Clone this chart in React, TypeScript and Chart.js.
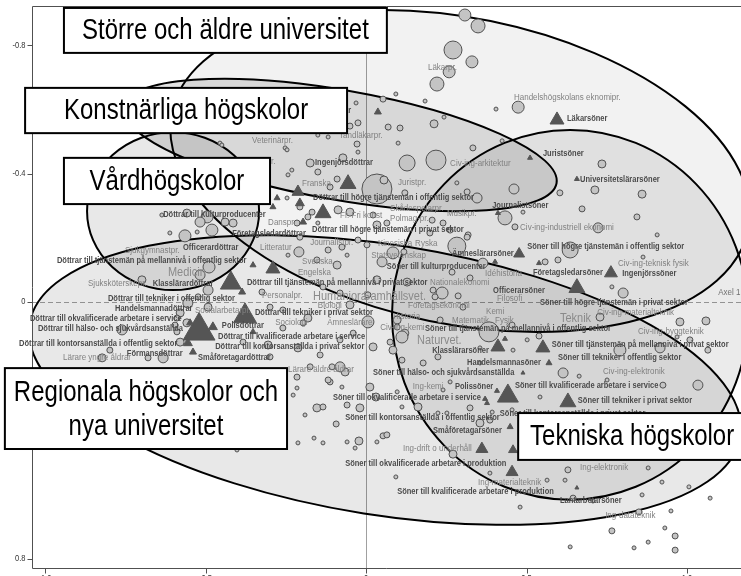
import React, { useEffect, useRef } from "react";
import { Chart, registerables } from "chart.js";

Chart.register(...registerables);

// ---------- axis ticks ----------
const xTickValues = [-1.0, -0.5, 0, 0.5, 1.0];
const xTickLabels = ["-1.0", "-0.5", "0", "0.5", "1.0"];
const yTickValues = [-0.8, -0.4, 0, 0.4, 0.8];
const yTickLabels = ["-0.8", "-0.4", "0", "0.4", "0.8"];

// ---------- programmes (circles): [axis1, axis2, size] ----------
const circles: [number, number, number][] = [
  [0.308,-0.894,6],[0.349,-0.860,7],[0.271,-0.785,9],[0.330,-0.748,6],[0.259,-0.717,6],[0.221,-0.679,7],
  [0.405,-0.601,2],[0.184,-0.626,2],[0.093,-0.648,2],[0.053,-0.632,3],[-0.031,-0.620,2],[-0.025,-0.558,3],
  [-0.050,-0.548,3],[0.069,-0.545,3],[0.106,-0.542,3],[0.243,-0.576,2],[0.212,-0.555,4],[0.100,-0.495,2],
  [-0.028,-0.492,3],[-0.025,-0.467,2],[0.128,-0.433,8],[0.218,-0.442,10],[0.333,-0.480,3],[0.034,-0.352,15],
  [0.056,-0.380,4],[0.121,-0.340,3],[0.315,-0.343,3],[0.283,-0.371,2],[-0.072,-0.449,4],[-0.150,-0.405,3],
  [-0.174,-0.433,4],[-0.090,-0.383,3],[-0.112,-0.358,3],[-0.243,-0.396,2],[-0.231,-0.411,2],[-0.150,-0.520,2],
  [-0.118,-0.514,2],[-0.252,-0.480,2],[0.424,-0.502,2],[0.474,-0.607,6],[0.735,-0.430,4],[0.713,-0.349,4],
  [0.604,-0.340,3],[0.860,-0.336,4],[0.461,-0.352,5],[0.673,-0.290,3],[0.844,-0.265,3],[0.907,-0.209,2],
  [0.723,-0.231,5],[0.636,-0.162,8],[0.433,-0.262,7],[0.318,-0.209,3],[0.283,-0.174,9],[0.364,-0.121,5],
  [0.558,-0.125,3],[0.464,-0.234,3],[0.801,-0.028,5],[0.729,0.047,4],[0.978,0.062,4],[1.059,0.059,4],
  [1.009,0.118,3],[1.065,0.150,3],[1.034,0.259,5],[0.614,0.221,5],[0.237,-0.028,6],[0.455,0.072,3],
  [0.231,0.056,3],[0.097,0.056,4],[0.209,-0.037,3],[0.084,0.150,4],[0.121,0.097,4],[0.751,0.243,2],
  [0.355,0.143,2],[0.502,0.118,2],[0.324,0.330,3],[0.240,0.274,2],[0.386,0.368,3],[0.489,-0.280,2],
  [0.598,-0.131,3],[0.863,-0.140,2],[0.766,-0.047,2],[0.791,0.150,6],[0.916,0.143,5],[0.664,0.231,2],
  [0.539,0.106,3],[0.458,0.150,2],[0.969,0.109,2],[0.542,0.296,2],[0.925,0.259,3],[0.629,0.523,3],
  [0.879,0.517,2],[0.564,0.555,2],[0.620,0.555,2],[0.860,0.601,2],[0.922,0.561,2],[1.006,0.576,2],
  [1.072,0.611,2],[0.645,0.611,3],[0.707,0.620,2],[0.850,0.654,3],[0.950,0.651,2],[0.766,0.713,3],
  [0.931,0.704,2],[0.963,0.729,3],[0.879,0.748,2],[0.636,0.763,2],[0.835,0.766,2],[0.963,0.773,3],
  [0.480,0.639,2],[0.455,0.336,2],[0.012,0.265,4],[-0.112,0.249,3],[-0.075,0.265,2],[-0.215,0.268,2],
  [-0.227,0.290,2],[-0.153,0.330,4],[-0.134,0.327,3],[-0.190,0.352,2],[-0.059,0.321,3],[-0.019,0.330,4],
  [0.031,0.296,4],[0.097,0.280,2],[0.112,0.327,2],[0.162,0.327,4],[0.224,0.346,2],[-0.093,0.380,3],
  [-0.212,0.439,2],[-0.162,0.424,2],[-0.134,0.439,2],[-0.059,0.436,2],[-0.022,0.433,4],[-0.034,0.455,2],
  [0.034,0.436,2],[0.053,0.417,3],[0.065,0.414,3],[0.271,0.474,4],[0.355,0.377,4],[0.093,0.545,2],
  [0.386,0.533,2],[0.252,0.346,2],[0.393,0.343,2],[-0.402,0.461,2],
  [0.346,-0.324,5],[0.315,-0.202,3],[0.262,-0.224,3],[-0.050,-0.280,4],[-0.087,-0.287,4],[0.022,-0.271,3],
  [0.034,-0.240,4],[-0.150,-0.246,2],[-0.181,-0.265,3],[-0.206,-0.296,3],[-0.246,-0.324,2],[-0.206,-0.202,3],
  [-0.209,-0.156,5],[-0.153,-0.131,3],[-0.243,-0.146,2],[-0.118,-0.162,3],[-0.090,-0.115,4],[-0.059,-0.146,2],
  [0.050,-0.125,5],[0.084,-0.153,6],[0.118,-0.156,3],[-0.025,-0.193,3],[0.003,-0.178,3],[-0.075,-0.171,3],
  [0.065,-0.246,3],[0.199,-0.215,3],[0.240,-0.246,3],[0.206,-0.255,3],[0.128,-0.062,4],[0.034,-0.069,4],
  [0.215,-0.016,3],[0.287,-0.019,3],[0.302,0.016,3],[0.324,-0.075,3],[0.268,-0.093,3],[0.006,-0.022,3],
  [-0.050,0.009,4],[-0.081,-0.028,3],[-0.134,-0.047,3],[-0.324,-0.031,3],[-0.299,0.016,3],[-0.259,0.025,3],
  [-0.181,0.050,4],[-0.196,0.065,3],[0.006,0.062,6],[0.097,0.078,3],[0.112,0.109,6],[0.022,0.140,4],
  [0.075,0.125,3],[-0.081,0.118,3],[-0.040,0.097,3],[-0.259,0.081,3],[-0.212,0.143,4],[-0.143,0.165,3],
  [-0.106,0.202,3],[-0.065,0.218,4],[-0.174,0.202,3],[-0.215,0.234,3],[-0.118,0.243,3],[-0.299,0.171,3],
  [-0.305,0.134,4],[-0.336,0.249,3],[-0.262,0.252,3],[0.178,0.190,3],[0.224,0.171,3],[0.262,0.249,2],
  [0.355,0.190,2],[0.383,0.093,10],[0.112,0.181,3],
  [-0.564,-0.206,6],[-0.495,-0.265,6],[-0.480,-0.224,6],[-0.439,-0.249,4],[-0.558,-0.277,4],[-0.636,-0.271,2],
  [-0.611,-0.215,2],[-0.526,-0.218,2],[-0.698,-0.069,4],[-0.517,-0.084,5],[-0.489,-0.109,6],[-0.492,-0.037,5],
  [-0.523,-0.016,3],[-0.492,0.016,4],[-0.555,0.003,5],[-0.579,0.034,4],[-0.558,0.065,4],[-0.595,0.072,3],
  [-0.579,0.125,4],[-0.589,0.093,3],[-0.760,0.087,5],[-0.589,0.050,3],[-0.632,0.174,5],[-0.679,0.174,3],
  [-0.822,0.174,4],[-0.798,0.150,3],[-0.383,0.125,3],[-0.081,0.202,5],[-0.455,-0.495,2],[-0.246,-0.474,2],
  [-0.449,-0.489,2],[-0.215,-0.246,3],[-0.168,-0.280,3],[-0.414,-0.246,4],[-0.517,-0.249,5]
];

// ---------- social origin groups (triangles): [axis1, axis2, size] ----------
const triangles: [number, number, number][] = [
  [0.595,-0.567,7],[0.511,-0.449,2.5],[0.657,-0.383,2.5],[0.411,-0.277,2.5],[0.477,-0.150,5.5],
  [0.402,-0.125,2.5],[0.539,-0.121,2.5],[0.763,-0.090,6.5],[0.657,-0.044,8],[0.411,0.140,7],
  [0.433,0.115,2.5],[0.551,0.143,7],[0.570,0.190,3],[0.489,0.221,2],[0.442,0.293,10.5],
  [0.408,0.277,2.5],[0.377,0.315,2.5],[0.629,0.312,8],[0.449,0.389,3],[0.458,0.461,4.5],
  [0.455,0.530,6],[0.361,0.458,6],[0.657,0.579,2],[0.371,0.302,2.5],[0.037,-0.592,3.5],
  [-0.056,-0.368,8],[-0.212,-0.343,6],[-0.277,-0.324,3],[-0.290,-0.296,3],[-0.206,-0.308,4.5],
  [-0.134,-0.277,8],[-0.196,-0.249,3.5],[-0.290,-0.103,7],[-0.352,-0.115,3],[-0.421,-0.059,10.5],
  [-0.386,-0.031,3.5],[-0.377,0.044,11.5],[-0.520,0.090,16],[-0.548,0.065,3.5],[-0.477,0.078,4.5],
  [-0.555,0.128,4.5],[-0.539,0.156,3.5],[-0.352,0.093,3]
];

// ---------- labels: [text, axis1, axis2] ----------
const programLabels: [string, number, number][] = [
  ["Läkarpr.",0.193,-0.732],["Handelshögskolans eknomipr.",0.461,-0.639],["Veterinärpr.",-0.355,-0.505],
  ["Tandläkarpr.",-0.084,-0.520],["Psykologpr.",-0.411,-0.439],["Franska",-0.199,-0.371],
  ["Juristpr.",0.100,-0.374],["Civ-ing-arkitektur",0.262,-0.433],["Civ-ing-industriell ekonomi",0.480,-0.234],
  ["Civ-ing-teknisk fysik",0.785,-0.121],["Filosofi",0.408,-0.012],["Civ-ing-materialteknik",0.720,0.031],
  ["Kemi",0.374,0.028],["Fysik",0.402,0.056],["Matematik",0.268,0.056],["Företagsekonomi",0.131,0.009],
  ["Nationalekonomi",0.199,-0.062],["Idéhistoria",0.371,-0.090],["Statsvetenskap",0.016,-0.146],
  ["Kinesiska",0.037,-0.184],["Ryska",0.153,-0.184],["Fr. Fri konst",-0.081,-0.271],["Polmag-pr.",0.075,-0.259],
  ["Skådespelarpr.",0.075,-0.293],["Musikpr.",0.252,-0.277],["Danspr.",-0.305,-0.249],
  ["Journalistpr.",-0.174,-0.187],["Litteratur",-0.330,-0.171],["Svenska",-0.199,-0.128],
  ["Engelska",-0.212,-0.093],["Personalpr.",-0.324,-0.022],["Biologi",-0.150,0.012],["Historia",0.084,0.044],
  ["Civ-ing-kemi",0.044,0.078],["Sociologi",-0.283,0.062],["Ämneslärare",-0.121,0.065],
  ["Lärare äldre åldrar",-0.243,0.209],["Civ-ing-byggteknik",0.847,0.093],["Civ-ing-elektronik",0.738,0.215],
  ["Ing-kemi",0.146,0.262],["Ing-drift o underhåll",0.115,0.455],["Ing-materialteknik",0.349,0.561],
  ["Ing-elektronik",0.667,0.514],["Ing-datateknik",0.745,0.664],["Sjukgymnastpr.",-0.751,-0.162],
  ["Sjuksköterskepr.",-0.866,-0.059],["Socialarbetarpr.",-0.533,0.025],["Lärare yngre åldrar",-0.944,0.174]
];

const parentLabels: [string, number, number][] = [
  ["Läkardöttrar",-0.184,-0.598],["Ingenjörsdöttrar",-0.159,-0.436],["Läkarsöner",0.626,-0.573],
  ["Juristsöner",0.551,-0.464],["Universitetslärarsöner",0.667,-0.383],["Journalistsöner",0.393,-0.302],
  ["Söner till högre tjänstemän i offentlig sektor",0.502,-0.174],["Företagsledarsöner",0.520,-0.093],
  ["Ingenjörssöner",0.798,-0.090],["Officerarsöner",0.396,-0.037],
  ["Söner till högre tjänstemän i privat sektor",0.542,0.003],["Ämneslärarsöner",0.268,-0.150],
  ["Söner till kulturproducenter",0.065,-0.112],["Döttrar till högre tjänstemän i privat sektor",-0.168,-0.227],
  ["Döttrar till högre tjänstemän i offentlig sektor",-0.165,-0.324],
  ["Döttrar till tjänstemän på mellannivå i privat sektor",-0.371,-0.062],
  ["Döttrar till tekniker i privat sektor",-0.346,0.034],
  ["Döttrar till kvalificerade arbetare i service",-0.461,0.109],
  ["Döttrar till kontorsanställda i privat sektor",-0.470,0.140],["Småföretagardöttrar",-0.523,0.174],
  ["Söner till hälso- och sjukvårdsanställda",0.022,0.221],
  ["Söner till tjänstemän på mellannivå i offentlig sektor",0.184,0.084],["Klasslärarsöner",0.206,0.150],
  ["Handelsmannasöner",0.315,0.190],["Söner till tjänstemän på mellannivå i privat sektor",0.579,0.131],
  ["Söner till tekniker i offentlig sektor",0.598,0.174],["Söner till kvalificerade arbetare i service",0.464,0.259],
  ["Söner till tekniker i privat sektor",0.660,0.308],["Polissöner",0.277,0.262],
  ["Söner till okvalificerade arbetare i service",-0.103,0.299],
  ["Söner till kontorsanställda i offentlig sektor",-0.065,0.361],["Småföretagarsöner",0.209,0.399],
  ["Söner till kontorsanställda i privat sektor",0.417,0.346],
  ["Söner till okvalificerade arbetare i produktion",-0.065,0.502],
  ["Söner till kvalificerade arbetare i produktion",0.097,0.592],["Lantarbetarsöner",0.604,0.617],
  ["Döttrar till kulturproducenter",-0.632,-0.271],["Företagsledardöttrar",-0.417,-0.212],
  ["Officerardöttrar",-0.570,-0.171],["Döttrar till tjänstemän på mellannivå i offentlig sektor",-0.963,-0.128],
  ["Klasslärardöttrar",-0.664,-0.059],["Döttrar till tekniker i offentlig sektor",-0.804,-0.012],
  ["Handelsmannadöttrar",-0.782,0.019],["Döttrar till okvalificerade arbetare i service",-1.047,0.050],
  ["Döttrar till hälso- och sjukvårdsanställda",-1.022,0.084],["Polisdöttrar",-0.449,0.072],
  ["Döttrar till kontorsanställda i offentlig sektor",-1.081,0.128],["Förmansdöttrar",-0.745,0.162],
  ["Döttrar till okvalificerade arbetare i produktion",-0.798,0.321],
  ["Döttrar till kvalificerade arbetare i produktion",-0.813,0.396]
];

const fieldLabels: [string, number, number][] = [
  ["Medicin",-0.617,-0.093],["Humaniora",-0.165,-0.019],["Samhällsvet.",-0.009,-0.019],
  ["Naturvet.",0.159,0.121],["Teknik",0.604,0.050],["Utbildning",-0.657,0.221]
];

// ---------- group ellipses (data units) ----------
const groupEllipses = [
  { cx: 0.293, cy: -0.408, rx: 0.916, ry: 0.477, angle: 11.5, fill: "rgba(0,0,0,0.05)" },
  { cx: -0.081, cy: -0.489, rx: 0.685, ry: 0.171, angle: 10, fill: "rgba(0,0,0,0.11)" },
  { cx: -0.601, cy: -0.283, rx: 0.268, ry: 0.246, angle: 0, fill: "rgba(0,0,0,0.09)" },
  { cx: 0.059, cy: 0.243, rx: 1.121, ry: 0.421, angle: 9, fill: "rgba(0,0,0,0.09)" },
  { cx: 0.636, cy: 0.040, rx: 0.555, ry: 0.576, angle: 0, fill: "rgba(0,0,0,0.08)" }
];

// ---------- group title boxes (data units) ----------
const groupBoxes = [
  { lines: ["Större och äldre universitet"], x0: -0.941, x1: 0.065, y0: -0.916, y1: -0.776 },
  { lines: ["Konstnärliga högskolor"], x0: -1.062, x1: -0.059, y0: -0.667, y1: -0.526 },
  { lines: ["Vårdhögskolor"], x0: -0.941, x1: -0.299, y0: -0.449, y1: -0.305 },
  { lines: ["Regionala högskolor och", "nya universitet"], x0: -1.125, x1: -0.246, y0: 0.206, y1: 0.458 },
  { lines: ["Tekniska högskolor"], x0: 0.474, x1: 1.184, y0: 0.346, y1: 0.492 }
];

const FONT = "'Liberation Sans', Arial, Helvetica, sans-serif";
const V_STRETCH = 1.2;

function drawText(ctx: CanvasRenderingContext2D, text: string, x: number, y: number, font: string, color: string, align: CanvasTextAlign, baseline: CanvasTextBaseline = "middle") {
  ctx.save();
  ctx.translate(x, y);
  ctx.scale(1, V_STRETCH);
  ctx.font = font;
  ctx.fillStyle = color;
  ctx.textAlign = align;
  ctx.textBaseline = baseline;
  ctx.fillText(text, 0, 0);
  ctx.restore();
}

const backgroundPlugin = {
  id: "caBackground",
  beforeDatasetsDraw(chart: any) {
    const { ctx, chartArea: a } = chart;
    const xs = chart.scales.x;
    const ys = chart.scales.y;
    ctx.save();
    // reference lines through origin
    const x0 = Math.round(xs.getPixelForValue(0)) + 0.5;
    const y0 = Math.round(ys.getPixelForValue(0)) + 0.5;
    ctx.strokeStyle = "#a0a0a0";
    ctx.lineWidth = 1;
    ctx.beginPath(); ctx.moveTo(x0, a.top); ctx.lineTo(x0, a.bottom); ctx.stroke();
    ctx.setLineDash([5, 3]);
    ctx.beginPath(); ctx.moveTo(a.left, y0); ctx.lineTo(a.right, y0); ctx.stroke();
    ctx.setLineDash([]);

    // ellipses
    ctx.save();
    ctx.beginPath();
    ctx.rect(a.left, a.top, a.right - a.left, a.bottom - a.top);
    ctx.clip();
    const ux = Math.abs(xs.getPixelForValue(1) - xs.getPixelForValue(0));
    const uy = Math.abs(ys.getPixelForValue(1) - ys.getPixelForValue(0));
    const paths = groupEllipses.map((e) => {
      const p = new Path2D();
      p.ellipse(xs.getPixelForValue(e.cx), ys.getPixelForValue(e.cy), e.rx * ux, e.ry * uy, (e.angle * Math.PI) / 180, 0, Math.PI * 2);
      return p;
    });
    paths.forEach((p, i) => { ctx.fillStyle = groupEllipses[i].fill; ctx.fill(p); });
    ctx.strokeStyle = "#000";
    ctx.lineWidth = 2;
    paths.forEach((p) => ctx.stroke(p));
    ctx.restore();

    // axes frame
    ctx.strokeStyle = "#505050";
    ctx.lineWidth = 1;
    const L = Math.round(a.left) + 0.5;
    const T = Math.round(a.top) + 0.5;
    const B = Math.round(a.bottom) + 0.5;
    ctx.beginPath();
    ctx.moveTo(a.right, T); ctx.lineTo(L, T); ctx.lineTo(L, B); ctx.lineTo(a.right, B);
    ctx.stroke();
    // ticks
    ctx.beginPath();
    yTickValues.forEach((v) => {
      const py = Math.round(ys.getPixelForValue(v)) + 0.5;
      ctx.moveTo(L - 5, py); ctx.lineTo(L, py);
    });
    xTickValues.forEach((v) => {
      const px = Math.round(xs.getPixelForValue(v)) + 0.5;
      ctx.moveTo(px, B); ctx.lineTo(px, B + 5);
    });
    ctx.stroke();
    yTickValues.forEach((v, i) => {
      drawText(ctx, yTickLabels[i], L - 7, ys.getPixelForValue(v), `7.5px ${FONT}`, "#333", "right");
    });
    xTickValues.forEach((v, i) => {
      drawText(ctx, xTickLabels[i], xs.getPixelForValue(v), B + 6, `7.5px ${FONT}`, "#333", "center", "top");
    });
    ctx.restore();
  },
  afterDatasetsDraw(chart: any) {
    const { ctx } = chart;
    const xs = chart.scales.x;
    const ys = chart.scales.y;
    programLabels.forEach(([t, x, y]) => {
      drawText(ctx, t, xs.getPixelForValue(x), ys.getPixelForValue(y), `8px ${FONT}`, "#808080", "left");
    });
    parentLabels.forEach(([t, x, y]) => {
      drawText(ctx, t, xs.getPixelForValue(x), ys.getPixelForValue(y), `bold 7.5px ${FONT}`, "#4a4a4a", "left");
    });
    fieldLabels.forEach(([t, x, y]) => {
      drawText(ctx, t, xs.getPixelForValue(x), ys.getPixelForValue(y), `11px ${FONT}`, "#8a8a8a", "left");
    });
    drawText(ctx, "Axel 1", xs.getPixelForValue(1.097), ys.getPixelForValue(-0.031), `8px ${FONT}`, "#707070", "left");

    groupBoxes.forEach((b) => {
      const l = xs.getPixelForValue(b.x0);
      const r = xs.getPixelForValue(b.x1);
      const t = ys.getPixelForValue(b.y0);
      const bt = ys.getPixelForValue(b.y1);
      ctx.save();
      ctx.fillStyle = "#fff";
      ctx.fillRect(l, t, r - l, bt - t);
      ctx.strokeStyle = "#000";
      ctx.lineWidth = 2;
      ctx.strokeRect(l, t, r - l, bt - t);
      ctx.restore();
      const cx = (l + r) / 2;
      const cy = (t + bt) / 2;
      const lh = 34;
      b.lines.forEach((line, i) => {
        const yy = cy + (i - (b.lines.length - 1) / 2) * lh + 1;
        drawText(ctx, line, cx, yy, `24px ${FONT}`, "#000", "center");
      });
    });
  }
};

export default function App() {
  const canvasRef = useRef<HTMLCanvasElement | null>(null);
  useEffect(() => {
    document.body.style.margin = "0";
    const canvas = canvasRef.current;
    if (!canvas) return;
    const chart = new Chart(canvas, {
      type: "scatter",
      data: {
        datasets: [
          {
            label: "Socialt ursprung",
            data: triangles.map(([x, y]) => ({ x, y })),
            pointStyle: "triangle",
            pointRadius: triangles.map((t) => t[2] * 1.15),
            pointBackgroundColor: "#555555",
            pointBorderColor: "#555555",
            pointBorderWidth: 1,
            showLine: false
          },
          {
            label: "Utbildningar",
            data: circles.map(([x, y]) => ({ x, y })),
            pointStyle: "circle",
            pointRadius: circles.map((c) => c[2]),
            pointBackgroundColor: "#c4c4c4",
            pointBorderColor: "#505050",
            pointBorderWidth: 1,
            showLine: false
          }
        ]
      },
      options: {
        animation: false,
        responsive: false,
        devicePixelRatio: 1,
        events: [],
        layout: { autoPadding: false, padding: { left: 32, top: 6, right: 0, bottom: 8 } },
        scales: {
          x: { type: "linear", min: -1.0405, max: 1.1682, display: false },
          y: { type: "linear", min: -0.9221, max: 0.8287, reverse: true, display: false }
        },
        plugins: { legend: { display: false }, tooltip: { enabled: false } }
      },
      plugins: [backgroundPlugin]
    } as any);
    return () => chart.destroy();
  }, []);
  return (
    <div style={{ width: 741, height: 576, position: "relative" }}>
      <canvas ref={canvasRef} width={741} height={576} style={{ display: "block" }} />
    </div>
  );
}
